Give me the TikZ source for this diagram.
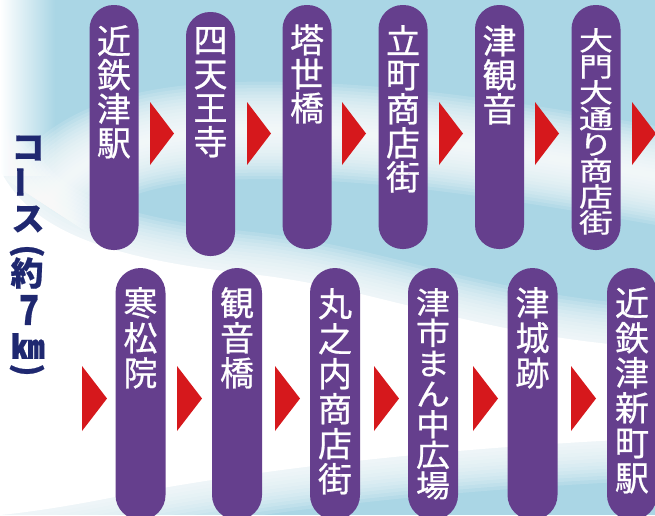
\documentclass[tikz,border=0pt]{standalone}
\usepackage{fontspec}
\usepackage{graphicx}
\newfontfamily\jp{Noto Sans CJK JP}[FakeBold=0.7]
\newfontfamily\jpbold{Noto Sans CJK JP}[FakeBold=0.6]
\definecolor{bgblue}{RGB}{170,214,229}
\definecolor{barpurple}{RGB}{101,63,141}
\definecolor{arrowred}{RGB}{214,24,28}
\definecolor{navy}{RGB}{31,40,112}
\newcommand\sq[1]{\scalebox{1}[0.9]{#1}}
\newcommand\sqq[1]{\scalebox{1}[0.78]{#1}}
\AtBeginDocument{\lineskiplimit=-30pt\relax}
\begin{document}
\begin{tikzpicture}[x=1pt,y=-1pt,
  bartop/.style={fill=barpurple, rounded corners=24pt, minimum width=49pt, inner sep=0pt},
  barbot/.style={fill=barpurple, rounded corners=25pt, minimum width=50pt, inner sep=0pt},
  lbl/.style={text=white, align=center, inner sep=0pt, anchor=north,
     font=\jp\fontsize{34}{34}\selectfont},
  lblb/.style={lbl, font=\jp\fontsize{34}{35}\selectfont},
  lblc/.style={lbl, font=\jp\fontsize{34}{30.5}\selectfont},
  lbld/.style={lbl, font=\jp\fontsize{34}{26}\selectfont},
  lft/.style={text=navy, inner sep=0pt, font=\jpbold\bfseries\fontsize{33}{33}\selectfont},
  arrowtri/.style={fill=arrowred}
]
\useasboundingbox (0,0) rectangle (655,515);
% background
\fill[bgblue] (0,0) rectangle (655,515);
\shade[left color=white, right color=bgblue] (0,0) rectangle (55,175);
% lower white region
\def\lowregion{(0,170) .. controls (30,228) and (100,258) .. (250,274)
   .. controls (380,288) and (480,338) .. (660,348) -- (660,438)
   .. controls (480,446) and (300,463) .. (140,492)
   .. controls (100,500) and (50,510) .. (0,515) -- cycle}
\foreach \i in {1,...,12}{
  \draw[white, line width=7*\i pt, opacity=0.14, line join=round] \lowregion;
}
\fill[white] \lowregion;
% upper white band
\foreach \i in {1,...,15}{
  \draw[white, line width=6.5*\i pt, opacity=0.13]
     (45,205) .. controls (80,150) and (150,126) .. (300,131)
     .. controls (420,135) and (540,155) .. (670,178);
}
% top row bars
\node[bartop, minimum height=245pt] (b1) at (114,127.5) {};
\node[bartop, minimum height=244pt] (b2) at (210.5,134) {};
\node[bartop, minimum height=244pt] (b3) at (307,127) {};
\node[bartop, minimum height=244pt] (b4) at (403,127) {};
\node[bartop, minimum height=244pt] (b5) at (499.5,127) {};
\node[bartop, minimum height=245pt] (b6) at (596,127.5) {};
% bottom row bars
\node[barbot, minimum height=252pt] (c1) at (140.5,394) {};
\node[barbot, minimum height=252pt] (c2) at (237,394) {};
\node[barbot, minimum height=252pt] (c3) at (335,394) {};
\node[barbot, minimum height=252pt] (c4) at (433,394) {};
\node[barbot, minimum height=252pt] (c5) at (532.5,394) {};
\node[barbot, minimum height=252pt] (c6) at (632,394) {};
% labels top row
\node[lbl] (s1) at (114,25) {近\\鉄\\津\\駅};
\node[lbl] (s2) at (210.5,27) {四\\天\\王\\寺};
\node[lbl] (s3) at (307,24) {塔\\世\\橋};
\node[lbl] (s4) at (403,25) {立\\町\\商\\店\\街};
\node[lbl] (s5) at (499.5,25) {津\\観\\音};
\node[lbld] (s6) at (596,28) {\sqq{大}\\\sqq{門}\\\sqq{大}\\\sqq{通}\\\sqq{り}\\\sqq{商}\\\sqq{店}\\\sqq{街}};
% labels bottom row
\node[lblb] (t1) at (140.5,287) {寒\\松\\院};
\node[lblb] (t2) at (237,287) {観\\音\\橋};
\node[lblb] (t3) at (335,288) {丸\\之\\内\\商\\店\\街};
\node[lblc] (t4) at (433,288) {\sq{津}\\\sq{市}\\\sq{ま}\\\sq{ん}\\\sq{中}\\\sq{広}\\\sq{場}};
\node[lblb] (t5) at (532.5,287) {津\\城\\跡};
\node[lblb] (t6) at (632,287) {近\\鉄\\津\\新\\町\\駅};
% arrows top row
\foreach \x in {150,247,342,439,535,632}{
  \fill[arrowtri] (\x,102) -- ++(24,31.5) -- ++(-24,31.5) -- cycle;
}
% arrows bottom row
\foreach \x in {82,177,275,374,473,571}{
  \fill[arrowtri] (\x,366) -- ++(25,32.5) -- ++(-25,32.5) -- cycle;
}
% left label
\node[lft] (k1) at (28,148) {コ};
\node[lft, rotate=90] (k2) at (25,182) {ー};
\node[lft] (k3) at (28,219) {ス};
\node[lft, rotate=-90] (k4) at (27,251) {(};
\node[lft] (k5) at (27,273) {約};
\node[lft] (k6) at (29,310) {\scalebox{1}[1.25]{7}};
\node[lft] (k7) at (28,346) {㎞};
\node[lft, rotate=-90] (k8) at (27,370) {)};
\end{tikzpicture}
\end{document}
